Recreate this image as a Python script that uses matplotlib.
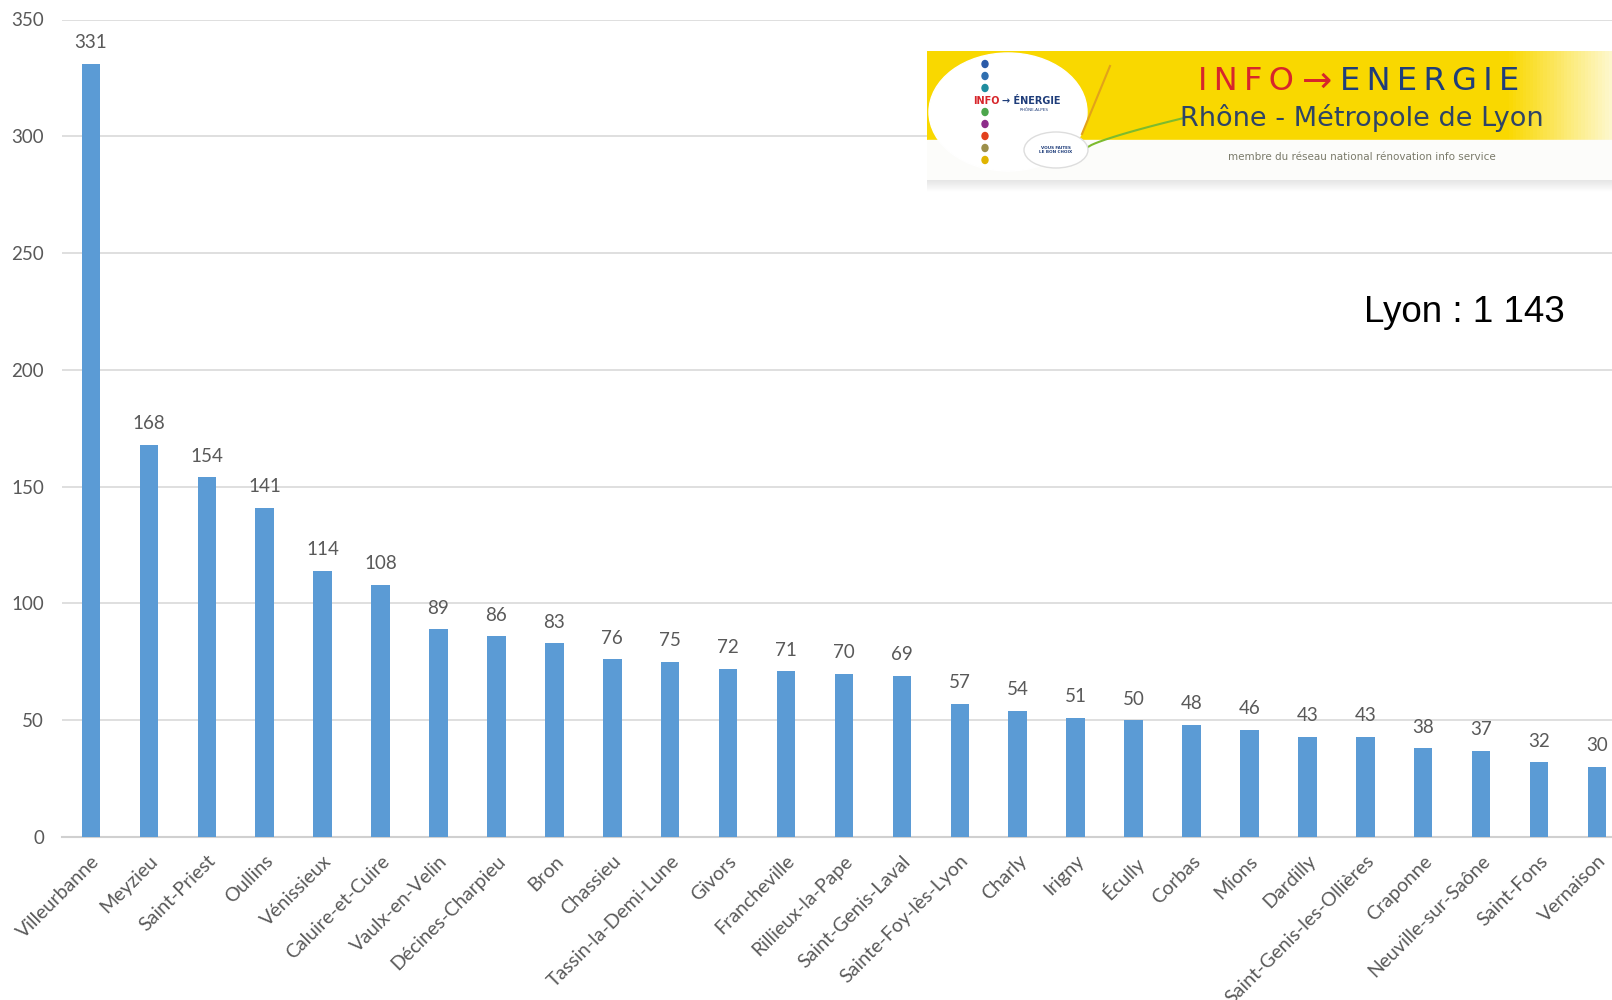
import numpy as np
import matplotlib
matplotlib.use("Agg")
import matplotlib.pyplot as plt
from matplotlib.patches import Ellipse, Rectangle

# number of projects per commune (Métropole de Lyon)
communes = ["Villeurbanne", "Meyzieu", "Saint-Priest", "Oullins", "Vénissieux",
            "Caluire-et-Cuire", "Vaulx-en-Velin", "Décines-Charpieu", "Bron",
            "Chassieu", "Tassin-la-Demi-Lune", "Givors", "Francheville",
            "Rillieux-la-Pape", "Saint-Genis-Laval", "Sainte-Foy-lès-Lyon",
            "Charly", "Irigny", "Écully", "Corbas", "Mions", "Dardilly",
            "Saint-Genis-les-Ollières", "Craponne", "Neuville-sur-Saône",
            "Saint-Fons", "Vernaison"]
values = [331, 168, 154, 141, 114, 108, 89, 86, 83, 76, 75, 72, 71, 70, 69,
          57, 54, 51, 50, 48, 46, 43, 43, 38, 37, 32, 30]
yticks = [0, 50, 100, 150, 200, 250, 300, 350]
lyon_text = "Lyon : 1 143"

bar_color = "#5B9BD5"
txt_gray = "#595959"
label_font = ["Lato", "DejaVu Sans"]

W, H = 1612, 1000
fig = plt.figure(figsize=(W / 100, H / 100), dpi=100)
ax = fig.add_axes([62 / W, 163 / H, 1 - 62 / W, 817.5 / H])

x = np.arange(len(communes))
ax.bar(x, values, width=0.32, color=bar_color, zorder=3)
for xi, v in zip(x, values):
    ax.annotate(str(v), (xi, v), xytext=(0, 9), textcoords="offset points",
                ha="center", va="bottom", fontsize=13.5, color=txt_gray,
                family=label_font)

ax.set_xlim(-0.5, 26.26)
ax.set_ylim(0, 350)
ax.set_yticks(yticks)
ax.set_yticklabels([str(t) for t in yticks], fontsize=13.5, color=txt_gray,
                   family=label_font)
ax.yaxis.grid(True, color="#D9D9D9", linewidth=1.2, zorder=0)
ax.set_xticks(x)
ax.set_xticklabels(communes, rotation=45, ha="right", rotation_mode="anchor",
                   fontsize=14, color=txt_gray, family=label_font)
ax.tick_params(axis="both", length=0)
ax.tick_params(axis="y", pad=13)
ax.tick_params(axis="x", pad=11)
for s in ["top", "right", "left"]:
    ax.spines[s].set_visible(False)
ax.spines["bottom"].set_color("#D0D0D0")
ax.spines["bottom"].set_linewidth(1.5)

fig.text(1464 / W, 1 - 312 / H, lyon_text, fontsize=26.5, ha="center",
         va="center", family=["Liberation Sans", "DejaVu Sans"], color="black")

# logo banner, drawn in pixel coords
lx0, ly0, lx1, ly1 = 927, 51, 1612, 192
lg = fig.add_axes([lx0 / W, 1 - ly1 / H, (lx1 - lx0) / W, (ly1 - ly0) / H])
lg.set_xlim(lx0, lx1)
lg.set_ylim(ly1, ly0)
lg.axis("off")

# yellow band fading out on the right
n = 200
grad = np.ones((1, n, 3))
yel = np.array([0.98, 0.85, 0.0])
fade = np.clip((np.linspace(0, 1, n) - 0.85) / 0.15, 0, 1)[:, None]
grad[0] = yel * (1 - fade * 0.8) + np.array([1, 1, 1]) * fade * 0.8
lg.imshow(grad, extent=[lx0, lx1, 140, ly0], aspect="auto", zorder=1)
lg.add_patch(Rectangle((lx0, 140), lx1 - lx0, 40, color="#FCFCFA", zorder=1))
shadow = np.linspace(0.9, 1.0, 20)[:, None, None] * np.ones((20, 2, 3))
lg.imshow(shadow, extent=[lx0, lx1, ly1, 180], aspect="auto", zorder=1)

lg.add_patch(Ellipse((1008, 112), 158, 118, color="white", zorder=2))
dot_y = [64, 76, 88, 112, 124, 136, 148, 160]
dot_c = ["#2B5BA8", "#2F6FB0", "#1E8C9E", "#4CA64C", "#8E2C8A", "#E2401C",
         "#9C8F4A", "#E0B400"]
for yy, cc in zip(dot_y, dot_c):
    lg.add_patch(Ellipse((985, yy), 6, 7, color=cc, zorder=3))
lg.text(1000, 101, "INFO", color="#D7262B", fontsize=7, weight="bold",
        ha="right", va="center", zorder=4)
lg.text(1002, 101, "→ ÉNERGIE", color="#1F3D7A", fontsize=7, weight="bold",
        ha="left", va="center", zorder=4)
lg.text(1020, 110, "RHÔNE-ALPES", color="#1F3D7A", fontsize=3, ha="left",
        va="center", zorder=4)
lg.add_patch(Ellipse((1056, 150), 64, 36, facecolor="white",
                     edgecolor="#DDDDDD", zorder=4))
lg.text(1056, 150, "VOUS FAITES\nLE BON CHOIX", color="#1F3D7A", fontsize=3,
        ha="center", va="center", weight="bold", zorder=5)
t = np.linspace(0, 1, 30)
lg.plot(1088 + t * 100, 147 - 30 * t ** 0.8, color="#7DBB2E", lw=1.5, zorder=3)
lg.plot(1110 - t * 28, 66 + t * 68, color="#E2A21A", lw=1.5, zorder=3)

ts = "\u2009"
lg.text(1246, 82, ts.join("INFO"), color="#D7262B", fontsize=23,
        ha="center", va="center", zorder=4, family=["DejaVu Sans"])
lg.text(1317, 82, "→", color="#D7262B", fontsize=26,
        ha="center", va="center", zorder=4, family=["DejaVu Sans"])
lg.text(1430, 82, ts.join("ENERGIE"), color="#1F3D7A", fontsize=23,
        ha="center", va="center", zorder=4, family=["DejaVu Sans"])
lg.text(1362, 118, "Rhône - Métropole de Lyon", color="#2E4466",
        fontsize=19.5, ha="center", va="center", zorder=4,
        family=["DejaVu Sans"])
lg.text(1362, 157, "membre du réseau national rénovation info service",
        color="#7A7A6A", fontsize=7.5, ha="center", va="center", zorder=4)

fig.savefig("out.png", dpi=100)
